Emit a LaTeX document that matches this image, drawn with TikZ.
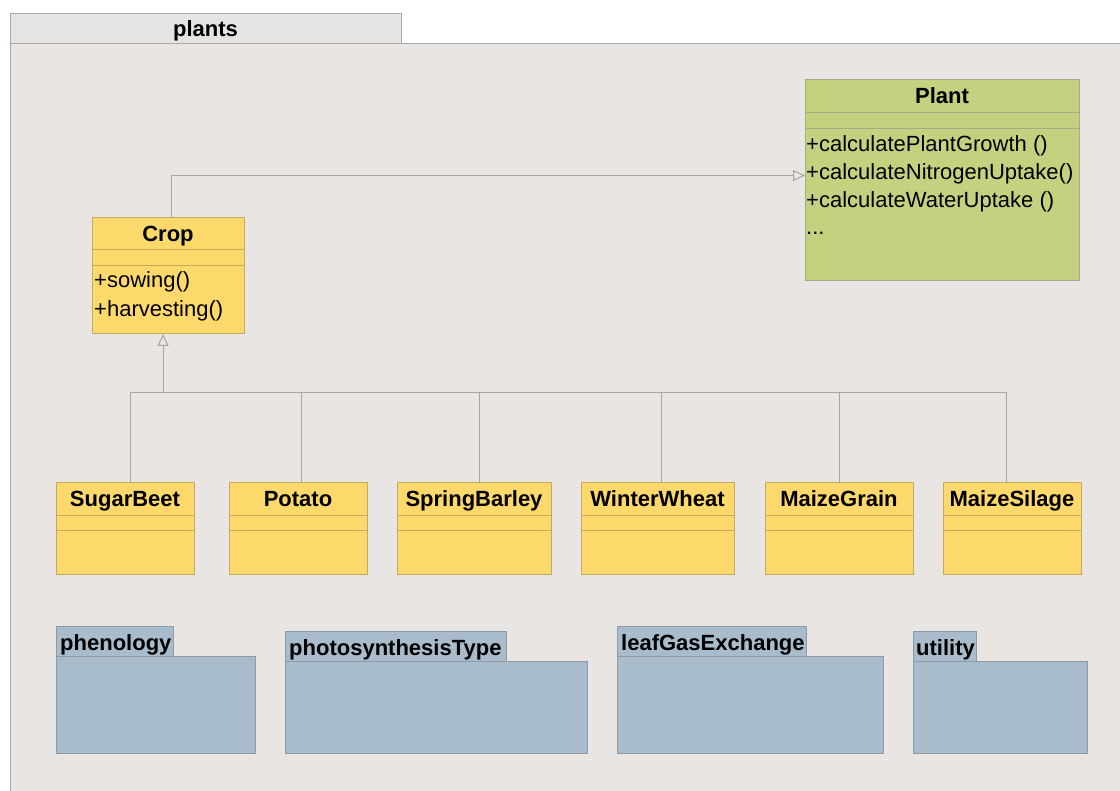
\documentclass[tikz,border=0pt]{standalone}
\usepackage{fontspec}
\setmainfont{Liberation Sans}
\usetikzlibrary{arrows.meta}

\definecolor{pagebg}{HTML}{E8E5E2}
\definecolor{tabbg}{HTML}{E6E4E2}
\definecolor{framec}{HTML}{A9A9A9}
\definecolor{cropY}{HTML}{FDD96B}
\definecolor{cropB}{HTML}{C4AA62}
\definecolor{plantG}{HTML}{C6D17F}
\definecolor{plantB}{HTML}{A6AC88}
\definecolor{pkgF}{HTML}{A9BCCB}
\definecolor{pkgB}{HTML}{8E9BA7}
\definecolor{wirec}{HTML}{A6A6A6}

% rectangle node spanning (left,top)-(right,bottom), y grows downwards
\newcommand\clsbox[6]{%
  \node[#1, minimum width={(#5-#3)*1pt}, minimum height={(#6-#4)*1pt}]
    (#2) at ({(#3+#5)/2},{(#4+#6)/2}) {};}
% compartment divider across a class box
\newcommand\sepline[3]{\draw[#1] (#2.west |- 0,#3) -- (#2.east |- 0,#3);}

\begin{document}
\begin{tikzpicture}[x=1pt,y=-1pt,
  box/.style={rectangle, draw, line width=1pt, inner sep=0pt, outer sep=0pt},
  ybox/.style={box, draw=cropB, fill=cropY},
  gbox/.style={box, draw=plantB, fill=plantG},
  pbox/.style={box, draw=pkgB, fill=pkgF},
  ysep/.style={draw=cropB, line width=1pt},
  gsep/.style={draw=plantB, line width=1pt},
  ttl/.style={font=\bfseries\fontsize{22}{26}\selectfont, inner sep=0pt, anchor=base},
  mbr/.style={font=\fontsize{22}{26}\selectfont, inner sep=0pt, anchor=base west},
  pkl/.style={font=\bfseries\fontsize{22}{26}\selectfont, inner sep=0pt, anchor=base west},
  link/.style={draw=wirec, line width=1pt},
  gen/.style={link, -{Triangle[open, length=12pt, width=11pt]}},
]
\useasboundingbox (0,0) rectangle (1120,791);
\clip (0,0) rectangle (1120,791);
\fill[white] (0,0) rectangle (1120,791);

% package frame "plants"
\clsbox{box, draw=framec, fill=pagebg}{frame}{10}{44}{1140}{810}
\clsbox{box, draw=framec, fill=tabbg}{tab}{10}{14}{401}{44}
\node[ttl] (tabT) at (tab.north |- 0,37) {plants};

% Plant class
\clsbox{gbox}{plant}{805}{80}{1079}{281}
\sepline{gsep}{plant}{113}
\sepline{gsep}{plant}{129}
\node[ttl] (plantT) at (plant.north |- 0,104) {Plant};
\node[mbr] (plantM1) at (806,152) {+calculatePlantGrowth ()};
\node[mbr] (plantM2) at (806,180) {+calculateNitrogenUptake()};
\node[mbr] (plantM3) at (806,208) {+calculateWaterUptake ()};
\node[mbr] (plantM4) at (806,235) {...};

% Crop class
\clsbox{ybox}{crop}{92}{218}{244}{334}
\sepline{ysep}{crop}{250}
\sepline{ysep}{crop}{266}
\node[ttl] (cropT) at (crop.north |- 0,242) {Crop};
\node[mbr] (cropM1) at (94,288) {+sowing()};
\node[mbr] (cropM2) at (94,317) {+harvesting()};

% concrete crops
\clsbox{ybox}{sugar}{56}{483}{194}{574}
\clsbox{ybox}{potato}{229}{483}{367}{574}
\clsbox{ybox}{barley}{397}{483}{551}{574}
\clsbox{ybox}{wheat}{581}{483}{734}{574}
\clsbox{ybox}{mgrain}{765}{483}{913}{574}
\clsbox{ybox}{msilage}{943}{483}{1081}{574}
\foreach \n in {sugar,potato,barley,wheat,mgrain,msilage}{
  \sepline{ysep}{\n}{516}
  \sepline{ysep}{\n}{531}
}
\node[ttl] (sugarT)   at (sugar.north |- 0,507)   {SugarBeet};
\node[ttl] (potatoT)  at (potato.north |- 0,507)  {Potato};
\node[ttl] (barleyT)  at (barley.north |- 0,507)  {SpringBarley};
\node[ttl] (wheatT)   at (wheat.north |- 0,507)   {WinterWheat};
\node[ttl] (mgrainT)  at (mgrain.north |- 0,507)  {MaizeGrain};
\node[ttl] (msilageT) at (msilage.north |- 0,507) {MaizeSilage};

% generalisations
\draw[gen] ([xshift=3pt]crop.north) |- ([yshift=5pt]plant.west);
\coordinate (bus) at (163,393);
\draw[link] ([xshift=5pt]sugar.north)    |- (bus);
\draw[link] ([xshift=3pt]potato.north)   |- (bus);
\draw[link] ([xshift=5pt]barley.north)   |- (bus);
\draw[link] ([xshift=3.5pt]wheat.north)  |- (bus);
\draw[link] (mgrain.north)               |- (bus);
\draw[link] ([xshift=-6pt]msilage.north) |- (bus);
\draw[gen] (bus) -- (bus |- crop.south);

% sub-packages
\clsbox{pbox}{phenTab}{56}{626}{173}{656}
\clsbox{pbox}{phen}{56}{656}{255}{753}
\node[pkl] (phenT) at (60,650) {phenology};

\clsbox{pbox}{photoTab}{285}{631}{506}{661}
\clsbox{pbox}{photo}{285}{661}{587}{753}
\node[pkl] (photoT) at (289,655) {photosynthesisType};

\clsbox{pbox}{leafTab}{617}{626}{806}{656}
\clsbox{pbox}{leaf}{617}{656}{883}{753}
\node[pkl] (leafT) at (621,650) {leafGasExchange};

\clsbox{pbox}{utilTab}{913}{631}{976}{661}
\clsbox{pbox}{util}{913}{661}{1087}{753}
\node[pkl] (utilT) at (916,655) {utility};
\end{tikzpicture}
\end{document}
